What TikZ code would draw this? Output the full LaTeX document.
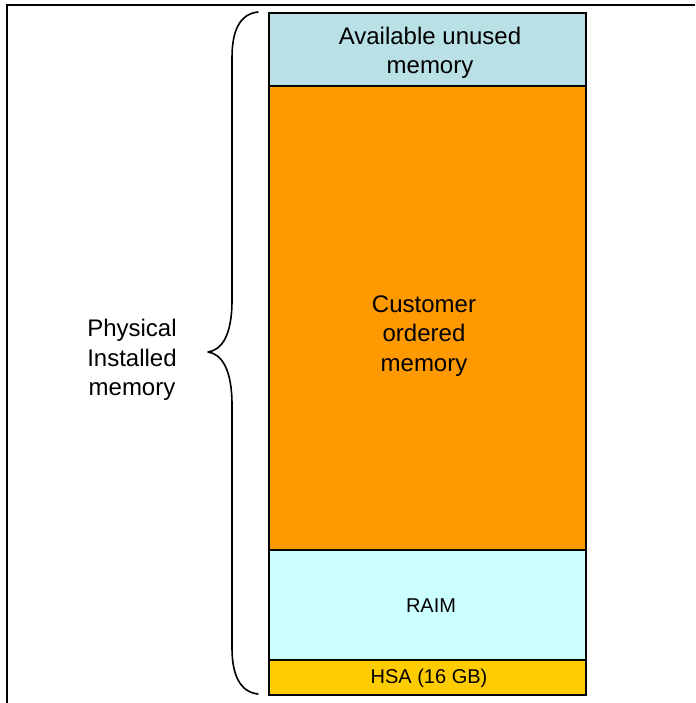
\documentclass[tikz,border=0pt]{standalone}
\usepackage{fontspec}
\setmainfont{Liberation Sans}
\definecolor{availblue}{RGB}{185,224,228}
\definecolor{custorange}{RGB}{255,153,0}
\definecolor{raimcyan}{RGB}{204,255,255}
\definecolor{hsayellow}{RGB}{255,204,0}
\begin{document}
\begin{tikzpicture}[x=1pt,y=-1pt,
  membox/.style={draw=black,line width=2pt,minimum width=317pt,inner sep=0pt,anchor=north west},
  bigtext/.style={align=center,font=\fontsize{24}{29.5}\selectfont,inner sep=0pt},
  smalltext/.style={align=center,font=\fontsize{20}{23}\selectfont,inner sep=0pt},
  brace/.style={draw=black,line width=1.6pt,line cap=round,line join=round},
  frameline/.style={draw=black,line width=1.4pt}]
\useasboundingbox (0,0) rectangle (695,703);
% frame
\draw[frameline] (7,703) -- (7,5) -- (695,5);
% column
\node[membox,fill=availblue,minimum height=73pt] (avail) at (268,12) {};
\node[membox,fill=custorange,minimum height=464pt] (cust) at (268,85) {};
\node[membox,fill=raimcyan,minimum height=110pt] (raim) at (268,549) {};
\node[membox,fill=hsayellow,minimum height=35pt] (hsa) at (268,659) {};
% labels
\node[bigtext] (availtxt) at (430,53) {Available unused\\memory};
\node[bigtext] (custtxt) at (424,336) {Customer\\ordered\\memory};
\node[smalltext] (raimtxt) at (431,606) {RAIM};
\node[smalltext] (hsatxt) at (429,678) {HSA (16 GB)};
\node[bigtext] (phys) at (132,360) {Physical\\Installed\\memory};
% brace
\draw[brace] (258,12) .. controls (240,14) and (232,30) .. (232,58)
  -- (232,300) .. controls (232,335) and (222,350) .. (208,352)
  .. controls (222,354) and (232,370) .. (232,405)
  -- (232,648) .. controls (232,675) and (240,692) .. (258,694);
\end{tikzpicture}
\end{document}
